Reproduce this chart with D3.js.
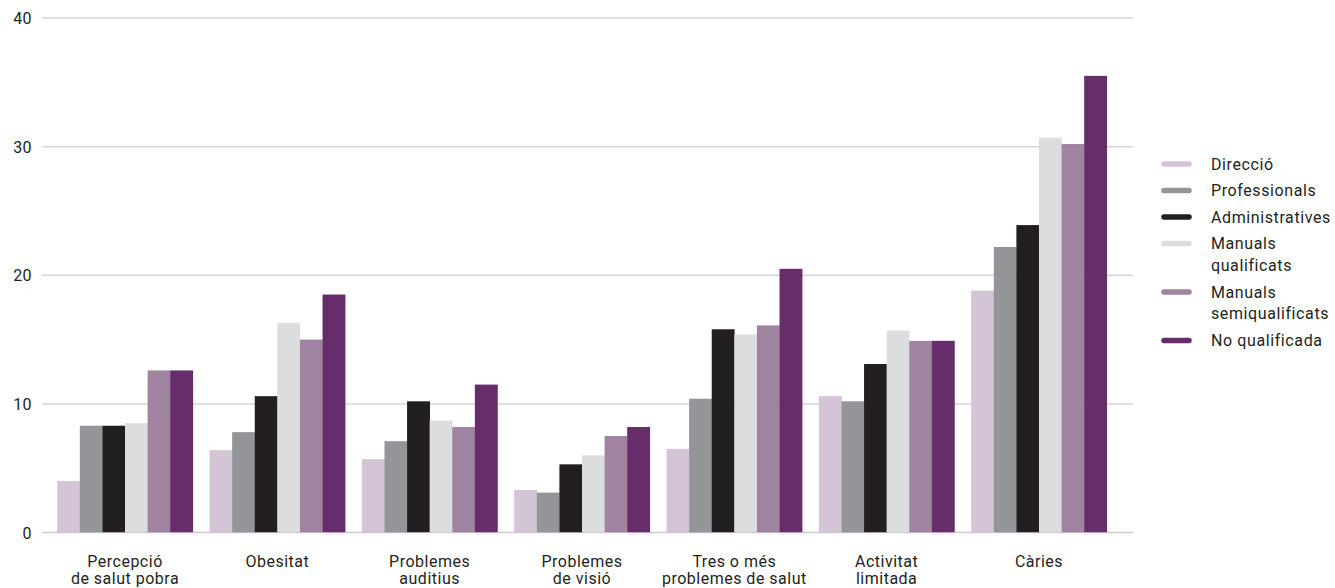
<!DOCTYPE html>
<html>
<head>
<meta charset="utf-8">
<script src="https://cdn.jsdelivr.net/npm/d3@7"></script>
<style>
  html, body { margin: 0; padding: 0; background: #fff; }
  svg { display: block; font-family: Roboto, "Noto Sans", sans-serif; }
</style>
</head>
<body>
<svg id="chart" width="1335" height="588"></svg>
<script>
const categories = [
  ["Percepció", "de salut pobra"],
  ["Obesitat"],
  ["Problemes", "auditius"],
  ["Problemes", "de visió"],
  ["Tres o més", "problemes de salut"],
  ["Activitat", "limitada"],
  ["Càries"]
];
const seriesNames = [
  ["Direcció"],
  ["Professionals"],
  ["Administratives"],
  ["Manuals", "qualificats"],
  ["Manuals", "semiqualificats"],
  ["No qualificada"]
];
const direccio        = [4.0, 6.4, 5.7, 3.3, 6.5, 10.6, 18.8];
const professionals   = [8.3, 7.8, 7.1, 3.1, 10.4, 10.2, 22.2];
const administratives = [8.3, 10.6, 10.2, 5.3, 15.8, 13.1, 23.9];
const manualsQual     = [8.5, 16.3, 8.7, 6.0, 15.4, 15.7, 30.7];
const manualsSemi     = [12.6, 15.0, 8.2, 7.5, 16.1, 14.9, 30.2];
const noQualificada   = [12.6, 18.5, 11.5, 8.2, 20.5, 14.9, 35.5];
const yTicks = [0, 10, 20, 30, 40];
const colors = ["#d3c5d5", "#939598", "#231f20", "#dcdddf", "#a083a1", "#662d6a"];

const seriesValues = [direccio, professionals, administratives, manualsQual, manualsSemi, noQualificada];

const svg = d3.select("#chart");
const textColor = "#231f20";
const gridColor = "#dbd1de";

const x0 = d3.scaleBand().domain(d3.range(categories.length)).range([42, 1122]).paddingInner(0.11).paddingOuter(0.1);
const x1 = d3.scaleBand().domain(d3.range(seriesValues.length)).range([0, x0.bandwidth()]).padding(0);
const y = d3.scaleLinear().domain([0, 40]).range([532.5, 18]);

// gridlines
svg.append("g").selectAll("line").data(yTicks).join("line")
  .attr("x1", 42).attr("x2", 1133)
  .attr("y1", d => y(d)).attr("y2", d => y(d))
  .attr("stroke", gridColor).attr("stroke-width", 1.5);

// y tick labels
svg.append("g").selectAll("text").data(yTicks).join("text")
  .attr("x", 32).attr("y", d => y(d)).attr("dy", "0.38em")
  .attr("text-anchor", "end")
  .attr("font-size", 16).attr("letter-spacing", "0.4px").attr("fill", textColor)
  .text(d => d);

// bars
const groups = svg.append("g").selectAll("g").data(categories).join("g")
  .attr("transform", (d, i) => `translate(${x0(i)},0)`);
groups.selectAll("rect")
  .data((d, i) => seriesValues.map((s, k) => ({ k, v: s[i] })))
  .join("rect")
  .attr("x", d => x1(d.k))
  .attr("width", x1.bandwidth() + 0.3)
  .attr("y", d => y(d.v))
  .attr("height", d => y(0) - y(d.v))
  .attr("fill", d => colors[d.k]);

// zero line over bars
svg.append("line")
  .attr("x1", 42).attr("x2", 1133).attr("y1", y(0)).attr("y2", y(0))
  .attr("stroke", "#c9bccd").attr("stroke-width", 1.2).attr("opacity", 0.6);

// category labels
const cl = svg.append("g").selectAll("text").data(categories).join("text")
  .attr("x", (d, i) => x0(i) + x0.bandwidth() / 2)
  .attr("y", 566.5)
  .attr("text-anchor", "middle")
  .attr("font-size", 16).attr("letter-spacing", "0.5px").attr("fill", textColor);
cl.selectAll("tspan").data(d => d).join("tspan")
  .attr("x", function() { return d3.select(this.parentNode).attr("x"); })
  .attr("dy", (d, j) => j === 0 ? 0 : 17.5)
  .text(d => d);

// legend
let ly = 164;
const legend = svg.append("g");
seriesNames.forEach((name, k) => {
  legend.append("line")
    .attr("x1", 1164).attr("x2", 1189)
    .attr("y1", ly).attr("y2", ly)
    .attr("stroke", colors[k]).attr("stroke-width", 5.5).attr("stroke-linecap", "round");
  const t = legend.append("text")
    .attr("x", 1211).attr("y", ly)
    .attr("font-size", 16).attr("letter-spacing", "0.6px").attr("fill", textColor);
  name.forEach((line, j) => {
    t.append("tspan").attr("x", 1211).attr("dy", j === 0 ? "0.36em" : 21.5).text(line);
  });
  ly += 26.5 + (name.length - 1) * 22;
});
</script>
</body>
</html>
